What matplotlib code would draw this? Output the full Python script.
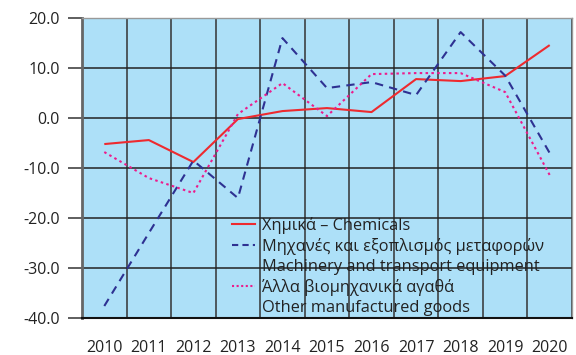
import numpy as np
import matplotlib
matplotlib.use("Agg")
import matplotlib.pyplot as plt
from matplotlib.lines import Line2D

plt.rcParams["font.family"] = ["Open Sans", "DejaVu Sans"]

# Annual change (%) by product group
years = ["2010", "2011", "2012", "2013", "2014", "2015", "2016",
         "2017", "2018", "2019", "2020"]
chemicals = [-5.2, -4.4, -8.8, -0.2, 1.4, 2.0, 1.2, 7.8, 7.4, 8.4, 14.6]
machinery = [-37.6, -23.0, -8.5, -16.0, 16.0, 6.0, 7.2, 4.6, 17.2, 8.5, -7.0]
other_goods = [-6.8, -12.0, -15.0, 0.8, 7.0, 0.4, 8.8, 9.0, 9.0, 5.2, -11.4]

label_chem = "Χημικά – Chemicals"
label_mach = ["Μηχανές και εξοπλισμός μεταφορών", "Machinery and transport equipment"]
label_other = ["Άλλα βιομηχανικά αγαθά", "Other manufactured goods"]

fig = plt.figure(figsize=(5.76, 3.55), dpi=100)
ax = fig.add_axes([0.1424, 0.1042, 0.8506, 0.8448])
ax.set_facecolor("#ADE0F8")

x = np.arange(len(years))
ax.plot(x, chemicals, color="#EE2A2F", lw=1.5, solid_capstyle="butt")
ax.plot(x, machinery, color="#2E3192", lw=1.5, ls=(0, (4, 3)))
ax.plot(x, other_goods, color="#EC1C8C", lw=1.5, ls=(0, (1.2, 1.6)))

ax.set_xlim(-0.5, len(years) - 0.5)
ax.set_ylim(-40, 20)
ax.set_yticks(np.arange(-40, 21, 10))
ax.set_yticklabels([f"{v:.1f}" for v in np.arange(-40, 21, 10)])
ax.set_xticks(x)
ax.set_xticklabels(years)
ax.set_xticks(np.arange(-0.5, len(years), 1), minor=True)

ax.grid(True, axis="y", which="major", color="#222222", lw=1.1)
ax.grid(True, axis="x", which="minor", color="#333333", lw=1.1)
ax.set_axisbelow(True)

ax.tick_params(axis="y", which="major", length=10, width=1.1, color="#333333",
               pad=6, labelsize=11.5, labelcolor="#222222")
ax.tick_params(axis="x", which="major", length=0, pad=16, labelsize=11.5,
               labelcolor="#222222")
ax.tick_params(axis="x", which="minor", length=0)

for side in ["top", "right"]:
    ax.spines[side].set_color("#999999")
    ax.spines[side].set_linewidth(1.0)
ax.spines["left"].set_color("#666666")
ax.spines["left"].set_linewidth(2.0)
ax.spines["bottom"].set_color("#111111")
ax.spines["bottom"].set_linewidth(1.5)

blank = Line2D([], [], color="none")
handles = [
    Line2D([], [], color="#EE2A2F", lw=1.5),
    Line2D([], [], color="#2E3192", lw=1.5, ls=(0, (3, 2))),
    blank,
    Line2D([], [], color="#EC1C8C", lw=1.5, ls=(0, (1, 1.2))),
    blank,
]
labels = [label_chem, label_mach[0], label_mach[1], label_other[0], label_other[1]]
ax.legend(handles, labels, loc="upper left", bbox_to_anchor=(0.306, 0.337),
          frameon=False, fontsize=11.8, handlelength=1.4, handletextpad=0.45,
          labelspacing=0.24, borderaxespad=0, borderpad=0, labelcolor="#222222")

fig.savefig("out.png", dpi=100)
